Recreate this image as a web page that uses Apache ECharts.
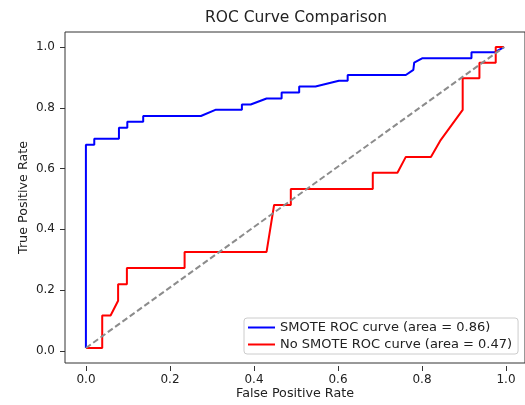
<!DOCTYPE html>
<html>
<head>
<meta charset="utf-8">
<script src="https://cdn.jsdelivr.net/npm/echarts@6/dist/echarts.min.js"></script>
<style>
  html, body { margin: 0; padding: 0; background: #fff; }
  #chart { width: 525px; height: 405px; }
</style>
</head>
<body>
<div id="chart"></div>
<script>
// ROC 曲线数据
const smoteFpr = [0, 0, 0.02, 0.02, 0.079, 0.079, 0.099, 0.099, 0.137, 0.137, 0.275, 0.311, 0.373, 0.373, 0.394, 0.432, 0.468, 0.468, 0.51, 0.51, 0.549, 0.605, 0.626, 0.626, 0.765, 0.783, 0.785, 0.805, 0.922, 0.922, 0.978, 1.0];
const smoteTpr = [0, 0.675, 0.675, 0.695, 0.695, 0.732, 0.732, 0.752, 0.752, 0.771, 0.771, 0.792, 0.792, 0.809, 0.809, 0.829, 0.829, 0.849, 0.849, 0.869, 0.869, 0.888, 0.888, 0.907, 0.907, 0.924, 0.948, 0.963, 0.963, 0.983, 0.983, 1.0];

const noSmoteFpr = [0, 0.039, 0.039, 0.059, 0.077, 0.077, 0.098, 0.098, 0.236, 0.236, 0.432, 0.45, 0.49, 0.49, 0.686, 0.686, 0.745, 0.765, 0.825, 0.847, 0.901, 0.901, 0.941, 0.941, 0.98, 0.98, 1.0];
const noSmoteTpr = [0, 0, 0.108, 0.108, 0.157, 0.212, 0.212, 0.266, 0.266, 0.319, 0.319, 0.475, 0.475, 0.528, 0.528, 0.582, 0.582, 0.635, 0.635, 0.688, 0.791, 0.896, 0.896, 0.948, 0.948, 1.0, 1.0];

const diagX = [0, 1];
const diagY = [0, 1];

const seriesNames = ["SMOTE ROC curve (area = 0.86)", "No SMOTE ROC curve (area = 0.47)"];

const font = "DejaVu Sans";
const textColor = "#222";

const zip = (xs, ys) => xs.map((x, i) => [x, ys[i]]);

const chart = echarts.init(document.getElementById("chart"));

// 主坐标轴：范围 -0.05 ~ 1.05，只画轴名
const mainAxis = {
  type: "value",
  gridIndex: 0,
  min: -0.05,
  max: 1.05,
  nameLocation: "middle",
  nameMoveOverlap: false,
  nameTextStyle: { fontFamily: font, fontSize: 12.7, color: textColor },
  axisLine: { show: false, onZero: false },
  axisTick: { show: false },
  axisLabel: { show: false },
  splitLine: { show: false },
};

// 刻度轴：范围 0 ~ 1，用 offset 贴到主网格边框上
const tickAxis = {
  type: "value",
  gridIndex: 1,
  min: 0,
  max: 1,
  interval: 0.2,
  axisLine: { show: false, onZero: false },
  axisTick: { show: true, length: 5, lineStyle: { color: "#333", width: 1 } },
  axisLabel: {
    fontFamily: font,
    fontSize: 12,
    color: textColor,
    formatter: (v) => v.toFixed(1),
  },
  splitLine: { show: false },
};

const option = {
  animation: false,
  backgroundColor: "#fff",
  title: {
    text: "ROC Curve Comparison",
    left: 296,
    textAlign: "center",
    top: 10,
    padding: 0,
    textStyle: { fontFamily: font, fontSize: 15.5, fontWeight: "normal", color: textColor },
  },
  grid: [
    {
      left: 65,
      top: 32,
      width: 462,
      height: 334,
      show: true,
      borderColor: "#333",
      borderWidth: 1,
    },
    {
      left: 86,
      top: 47.2,
      width: 420,
      height: 303.6,
    },
  ],
  legend: {
    data: seriesNames,
    orient: "vertical",
    left: 244,
    top: 318,
    padding: [3, 6, 3, 4],
    itemGap: 4,
    itemWidth: 27,
    itemHeight: 2,
    icon: "rect",
    backgroundColor: "rgba(255,255,255,0.85)",
    borderColor: "#ccc",
    borderWidth: 1,
    borderRadius: 3,
    textStyle: { fontFamily: font, fontSize: 13, color: textColor },
  },
  xAxis: [
    Object.assign({}, mainAxis, { name: "False Positive Rate", nameGap: 24 }),
    Object.assign({}, tickAxis, {
      position: "bottom",
      offset: 15.2,
      axisLabel: Object.assign({}, tickAxis.axisLabel, { margin: 8 }),
    }),
  ],
  yAxis: [
    Object.assign({}, mainAxis, { name: "True Positive Rate", nameGap: 35 }),
    Object.assign({}, tickAxis, {
      position: "left",
      offset: 21,
      axisLabel: Object.assign({}, tickAxis.axisLabel, { margin: 10 }),
    }),
  ],
  series: [
    {
      name: seriesNames[0],
      type: "line",
      data: zip(smoteFpr, smoteTpr),
      symbol: "none",
      lineStyle: { color: "#0000ff", width: 2 },
      itemStyle: { color: "#0000ff" },
    },
    {
      name: seriesNames[1],
      type: "line",
      data: zip(noSmoteFpr, noSmoteTpr),
      symbol: "none",
      lineStyle: { color: "#ff0000", width: 2 },
      itemStyle: { color: "#ff0000" },
    },
    {
      name: "diagonal",
      type: "line",
      data: zip(diagX, diagY),
      symbol: "none",
      lineStyle: { color: "#8c8c8c", width: 2, type: [6, 3] },
    },
  ],
};

chart.setOption(option);
</script>
</body>
</html>
